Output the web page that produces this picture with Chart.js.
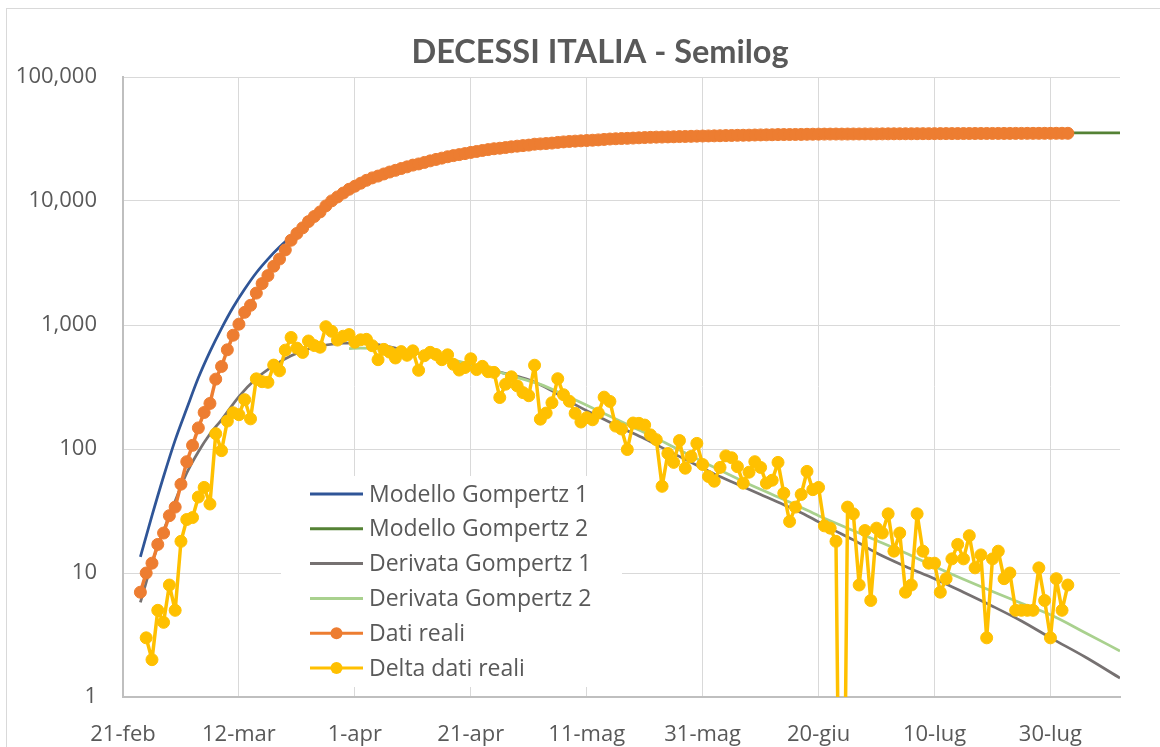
<!DOCTYPE html>
<html>
<head>
<meta charset="utf-8">
<title>Decessi Italia - Semilog</title>
<script src="https://cdn.jsdelivr.net/npm/chart.js@4.4.0/dist/chart.umd.min.js"></script>
<style>
    html, body { margin: 0; padding: 0; background: #ffffff; overflow: hidden; }
    #wrap { position: relative; width: 1160px; height: 747px; overflow: hidden; }
    #frame { position: absolute; left: 6px; top: 8px; width: 1300px; height: 900px; border: 1px solid #d9d9d9; }
    #chart { position: absolute; left: 0; top: 0; }
</style>
</head>
<body>
<div id="wrap">
    <div id="frame"></div>
    <canvas id="chart" width="1160" height="747"></canvas>
</div>
<script>
// Day 0 = 21-feb (2020), one unit per day
const tickLabels = ['21-feb', '12-mar', '1-apr', '21-apr', '11-mag', '31-mag', '20-giu', '10-lug', '30-lug'];
const tickStep = 20;
const xMaxDay = 172;
const yTickValues = [1, 10, 100, 1000, 10000, 100000];

// Dati reali: cumulative deaths, from 24-feb (day 3) to 2-ago
const datiRealiStart = 3;
const datiReali = [
    7, 10, 12, 17, 21, 29,
    34, 52, 79, 107, 148, 197, 233, 366, 463, 631, 827, 1016, 1266, 1441, 1809, 2158, 2503, 2978, 3405, 4032,
    4825, 5476, 6077, 6820, 7503, 8165, 9134, 10023, 10779, 11591, 12428,
    13155, 13915, 14681, 15362, 15887, 16523, 17127, 17669, 18279, 18849, 19468, 19899, 20465, 21067, 21645,
    22170, 22745, 23227, 23660, 24114, 24648, 25085, 25549, 25969, 26384, 26644, 26977, 27359, 27682, 27967,
    28236, 28710, 28884, 29079, 29315, 29684, 29958, 30201, 30395, 30560, 30739, 30911, 31106, 31368, 31610,
    31763, 31908, 32007, 32169, 32330, 32486, 32616, 32735, 32785, 32877, 32955, 33072, 33142, 33229, 33340, 33415,
    33475, 33530, 33601, 33689, 33774, 33846, 33899, 33964, 34043, 34114, 34167, 34223, 34301, 34345, 34371,
    34405, 34448, 34514, 34561, 34610, 34634, 34657, 34675, 34644, 34678, 34708, 34716, 34738, 34744, 34767,
    34788, 34818, 34833, 34854, 34861, 34869, 34899, 34914, 34926, 34938, 34945, 34954, 34967, 34984, 34997,
    35017, 35028, 35042, 35045, 35058, 35073, 35082, 35092, 35097, 35102, 35107, 35112, 35123, 35129, 35132, 35141,
    35146, 35154
];

// Delta dati reali: daily deaths, from 25-feb (day 4) to 2-ago
const deltaStart = 4;
const deltaDatiReali = [
    3, 2, 5, 4, 8,
    5, 18, 27, 28, 41, 49, 36, 133, 97, 168, 196, 189, 250, 175, 368, 349, 345, 475, 427, 627,
    793, 651, 601, 743, 683, 662, 969, 889, 756, 812, 837,
    727, 760, 766, 681, 525, 636, 604, 542, 610, 570, 619, 431, 566, 602, 578,
    525, 575, 482, 433, 454, 534, 437, 464, 420, 415, 260, 333, 382, 323, 285,
    269, 474, 174, 195, 236, 369, 274, 243, 194, 165, 179, 172, 195, 262, 242,
    153, 145, 99, 162, 161, 156, 130, 119, 50, 92, 78, 117, 70, 87, 111, 75,
    60, 55, 71, 88, 85, 72, 53, 65, 79, 71, 53, 56, 78, 44, 26,
    34, 43, 66, 47, 49, 24, 23, 18, -31, 34, 30, 8, 22, 6, 23,
    21, 30, 15, 21, 7, 8, 30, 15, 12, 12, 7, 9, 13, 17, 13,
    20, 11, 14, 3, 13, 15, 9, 10, 5, 5, 5, 5, 11, 6, 3, 9,
    5, 8
];

// Model curves
const gomp1Days = [3, 5, 7, 9, 11, 13, 15, 17, 19, 21, 23, 25, 27, 29, 30];
const gomp1Values = [13.5, 29, 60, 118, 212, 375, 610, 940, 1390, 1950, 2640, 3400, 4250, 5150, 5650];

const gomp2Days = [140, 150, 160, 172];
const gomp2Values = [35050, 35250, 35400, 35500];

const deriv1Days = [3, 5, 7, 9, 11, 13, 15, 17, 20, 23, 26, 29, 32, 35, 38, 41, 44, 47, 50, 54, 58, 62, 66, 70, 74, 78,
    82, 86, 90, 94, 98, 102, 106, 110, 114, 118, 122, 126, 130, 135, 140, 145, 150, 155, 160, 166, 172];
const deriv1Values = [5.8, 12, 22, 38, 64, 95, 132, 172, 265, 370, 470, 565, 640, 690, 715, 718, 695, 650, 600, 548, 502,
    455, 405, 362, 295, 228, 183, 148, 121, 97, 78, 63, 52, 43, 35.5, 29, 23, 18.5, 14.5, 11.3, 9.0, 7.0, 5.4, 4.1, 3.0, 2.1, 1.42];

const deriv2Days = [39, 41, 44, 48, 52, 56, 60, 64, 68, 72, 76, 80, 84, 88, 92, 96, 100, 104, 108, 112, 116, 120,
    125, 130, 135, 140, 145, 150, 155, 160, 166, 172];
const deriv2Values = [645, 650, 648, 622, 585, 535, 482, 430, 378, 332, 275, 225, 184, 150, 122, 98, 79, 64, 52, 43,
    35.5, 29, 23, 18.3, 14.5, 11.3, 8.9, 7.1, 5.7, 4.6, 3.3, 2.35];

// negative values cannot sit on a log axis: draw them as a plunge below the axis
const logFloor = 0.001;

function toPoints(days, values) {
    return days.map((d, i) => ({ x: d, y: values[i] }));
}

function dailyPoints(start, values) {
    return values.map((v, i) => ({ x: start + i, y: v > 0 ? v : logFloor }));
}

const textColor = '#595959';
const tickFont = { family: '"Open Sans", "Noto Sans", sans-serif', size: 22 };

// Title is centred on the whole Excel chart box, which runs past the right edge
const titleShift = {
    id: 'titleShift',
    afterLayout(chart) {
        if (chart.titleBlock) {
            chart.titleBlock.left += 40;
            chart.titleBlock.right += 40;
        }
    }
};

// Legend drawn inside the plot area, on a white box
const boxLegend = {
    id: 'boxLegend',
    afterDraw(chart) {
        const ctx = chart.ctx;
        ctx.save();
        ctx.fillStyle = '#ffffff';
        ctx.fillRect(281, 476, 341, 211);
        chart.data.datasets.forEach((ds, i) => {
            const y = 494 + i * 34.8;
            ctx.strokeStyle = ds.borderColor;
            ctx.lineWidth = 3;
            ctx.beginPath();
            ctx.moveTo(310, y);
            ctx.lineTo(363, y);
            ctx.stroke();
            if (ds.pointRadius > 0) {
                ctx.fillStyle = ds.borderColor;
                ctx.beginPath();
                ctx.arc(336.5, y, 6, 0, Math.PI * 2);
                ctx.fill();
            }
            ctx.fillStyle = textColor;
            ctx.font = '23px "Open Sans", "Noto Sans", sans-serif';
            ctx.textBaseline = 'middle';
            ctx.textAlign = 'left';
            ctx.fillText(ds.label, 369, y + 1);
        });
        ctx.restore();
    }
};

const ctx = document.getElementById('chart').getContext('2d');

new Chart(ctx, {
    type: 'line',
    data: {
        datasets: [
            {
                label: 'Modello Gompertz 1',
                data: toPoints(gomp1Days, gomp1Values),
                borderColor: '#2F5597',
                borderWidth: 2.75,
                pointRadius: 0,
                cubicInterpolationMode: 'monotone',
                order: 6
            },
            {
                label: 'Modello Gompertz 2',
                data: toPoints(gomp2Days, gomp2Values),
                borderColor: '#548235',
                borderWidth: 2.75,
                pointRadius: 0,
                cubicInterpolationMode: 'monotone',
                order: 5
            },
            {
                label: 'Derivata Gompertz 1',
                data: toPoints(deriv1Days, deriv1Values),
                borderColor: '#767171',
                borderWidth: 2.75,
                pointRadius: 0,
                cubicInterpolationMode: 'monotone',
                order: 4
            },
            {
                label: 'Derivata Gompertz 2',
                data: toPoints(deriv2Days, deriv2Values),
                borderColor: '#A9D18E',
                borderWidth: 2.75,
                pointRadius: 0,
                cubicInterpolationMode: 'monotone',
                order: 3
            },
            {
                label: 'Dati reali',
                data: dailyPoints(datiRealiStart, datiReali),
                borderColor: '#ED7D31',
                backgroundColor: '#ED7D31',
                borderWidth: 3.5,
                borderJoinStyle: 'round',
                pointRadius: 6,
                pointBorderWidth: 1,
                pointBorderColor: '#ED7D31',
                pointBackgroundColor: '#ED7D31',
                order: 2
            },
            {
                label: 'Delta dati reali',
                data: dailyPoints(deltaStart, deltaDatiReali),
                borderColor: '#FFC000',
                backgroundColor: '#FFC000',
                borderWidth: 3.5,
                borderJoinStyle: 'round',
                pointRadius: 6,
                pointBorderWidth: 1,
                pointBorderColor: '#FFC000',
                pointBackgroundColor: '#FFC000',
                order: 1
            }
        ]
    },
    options: {
        responsive: false,
        animation: false,
        devicePixelRatio: 1,
        events: [],
        layout: {
            padding: { left: 0, right: 40, top: 0, bottom: 0 }
        },
        plugins: {
            legend: { display: false },
            tooltip: { enabled: false },
            title: {
                display: true,
                text: 'DECESSI ITALIA - Semilog',
                color: textColor,
                font: { family: 'Lato, "Open Sans", sans-serif', size: 32.5, weight: 'bold' },
                padding: { top: 33, bottom: 5 }
            }
        },
        scales: {
            x: {
                type: 'linear',
                min: 0,
                max: xMaxDay,
                afterBuildTicks: function(scale) {
                    scale.ticks = tickLabels.map((_, i) => ({ value: i * tickStep }));
                },
                afterFit: function(scale) {
                    scale.height = 50;
                },
                grid: {
                    color: '#d9d9d9',
                    lineWidth: 1,
                    drawTicks: false
                },
                border: { color: '#bfbfbf', width: 2 },
                ticks: {
                    autoSkip: false,
                    maxRotation: 0,
                    padding: 25,
                    color: textColor,
                    font: tickFont,
                    callback: function(value, index) {
                        return tickLabels[index];
                    }
                }
            },
            y: {
                type: 'logarithmic',
                min: 1,
                max: 100000,
                afterBuildTicks: function(scale) {
                    scale.ticks = yTickValues.map(v => ({ value: v, major: true }));
                },
                afterFit: function(scale) {
                    scale.width = 123;
                },
                grid: {
                    color: '#d9d9d9',
                    lineWidth: 1,
                    drawTicks: false
                },
                border: { color: '#bfbfbf', width: 2 },
                ticks: {
                    padding: 26,
                    color: textColor,
                    font: tickFont,
                    callback: function(value) {
                        return Number(value).toLocaleString('en-US');
                    }
                }
            }
        }
    },
    plugins: [titleShift, boxLegend]
});
</script>
</body>
</html>
